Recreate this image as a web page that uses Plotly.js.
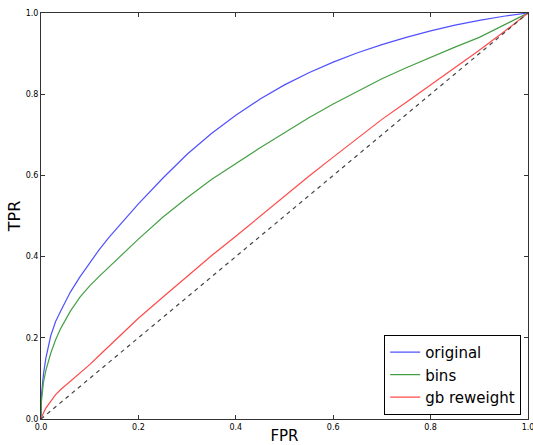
<!DOCTYPE html>
<html>
<head>
<meta charset="utf-8">
<script src="https://cdn.plot.ly/plotly-3.0.1.min.js"></script>
<style>html,body{margin:0;padding:0;background:#fff;}#chart{width:533px;height:445px;}</style>
</head>
<body>
<div id="chart"></div>
<script>
// ROC curve data (false positive rate grid shared by the three curves)
const fpr = [0, 0.001, 0.005, 0.01, 0.02, 0.03, 0.04, 0.05, 0.06, 0.08, 0.1, 0.12, 0.14, 0.16, 0.18, 0.2,
             0.25, 0.3, 0.35, 0.4, 0.45, 0.5, 0.55, 0.6, 0.65, 0.7, 0.75, 0.8, 0.85, 0.9, 0.95, 1];
const originalTPR = [0, 0.06, 0.11, 0.15, 0.205, 0.24, 0.265, 0.29, 0.312, 0.35, 0.385, 0.418, 0.448, 0.476, 0.503, 0.53,
                     0.593, 0.652, 0.703, 0.748, 0.788, 0.823, 0.853, 0.879, 0.902, 0.922, 0.94, 0.956, 0.97, 0.982, 0.992, 1];
const binsTPR = [0, 0.045, 0.09, 0.12, 0.162, 0.195, 0.222, 0.245, 0.265, 0.3, 0.328, 0.352, 0.375, 0.398, 0.42, 0.443,
                 0.497, 0.545, 0.59, 0.63, 0.668, 0.705, 0.742, 0.776, 0.808, 0.838, 0.865, 0.891, 0.916, 0.94, 0.97, 1];
const gbTPR = [0, 0.004, 0.015, 0.027, 0.045, 0.06, 0.072, 0.082, 0.092, 0.112, 0.134, 0.157, 0.18, 0.203, 0.226, 0.248,
               0.3, 0.352, 0.402, 0.45, 0.5, 0.55, 0.598, 0.645, 0.692, 0.738, 0.78, 0.822, 0.865, 0.908, 0.953, 1];

const diagX = [0, 1];
const diagY = [0, 1];

const seriesNames = ["original", "bins", "gb reweight"];
const tickVals = [0, 0.2, 0.4, 0.6, 0.8, 1.0];
const tickText = ["0.0", "0.2", "0.4", "0.6", "0.8", "1.0"];

const FONT = "DejaVu Sans, Liberation Sans, sans-serif";

const traces = [
  {x: fpr, y: originalTPR, name: seriesNames[0], mode: "lines", line: {color: "#5050ff", width: 1.2}},
  {x: fpr, y: binsTPR, name: seriesNames[1], mode: "lines", line: {color: "#45a045", width: 1.2}},
  {x: fpr, y: gbTPR, name: seriesNames[2], mode: "lines", line: {color: "#ff4a4a", width: 1.2}},
  {x: diagX, y: diagY, mode: "lines", showlegend: false, line: {color: "#444", width: 1.2, dash: "4px,4px"}}
];

const axisCommon = {
  range: [0, 1],
  tickvals: tickVals,
  ticktext: tickText,
  ticks: "inside",
  ticklen: 4,
  tickwidth: 1,
  tickcolor: "#333",
  showline: true,
  linecolor: "#333",
  linewidth: 1,
  mirror: "ticks",
  showgrid: false,
  zeroline: false,
  ticklabeloverflow: "allow",
  tickfont: {family: FONT, size: 8, color: "#000"}
};

const layout = {
  width: 533,
  height: 445,
  margin: {l: 41, r: 5, t: 13, b: 26},
  paper_bgcolor: "#fff",
  plot_bgcolor: "#fff",
  font: {family: FONT, color: "#000"},
  xaxis: Object.assign({}, axisCommon, {title: {text: "FPR", font: {family: FONT, size: 15}, standoff: 3}}),
  yaxis: Object.assign({}, axisCommon, {title: {text: "TPR", font: {family: FONT, size: 16}, standoff: 1}}),
  legend: {
    x: 0.986, xanchor: "right",
    y: 0.01, yanchor: "bottom",
    bgcolor: "#fff",
    bordercolor: "#000",
    borderwidth: 1,
    font: {family: FONT, size: 15, color: "#000"},
    itemwidth: 30
  },
  showlegend: true
};

Plotly.newPlot("chart", traces, layout, {displayModeBar: false, staticPlot: true});
</script>
</body>
</html>
